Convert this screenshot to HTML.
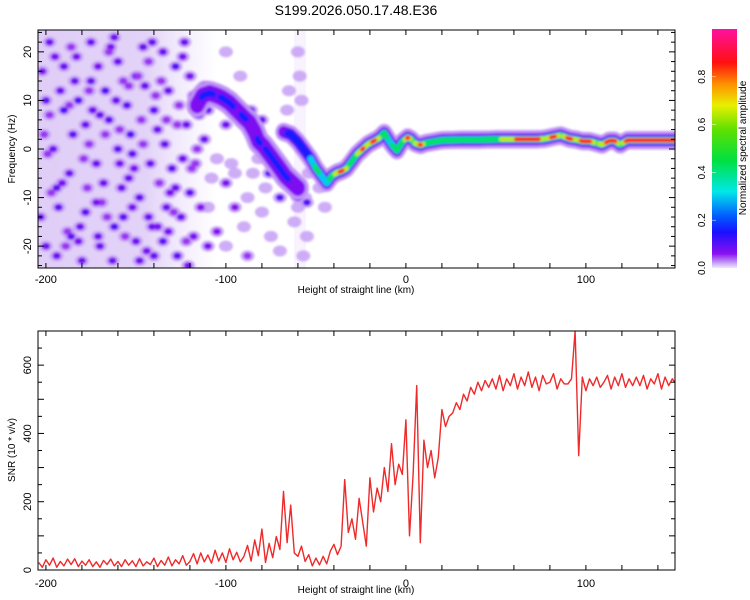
<!DOCTYPE html>
<html><head><meta charset="utf-8">
<style>
html,body{margin:0;padding:0;background:#fff;}
svg{display:block;font-family:"Liberation Sans",sans-serif;}
</style></head>
<body>
<svg id="chart" width="750" height="600" viewBox="0 0 750 600" xmlns="http://www.w3.org/2000/svg">
<defs>
<filter id="blur1" x="-50%" y="-50%" width="200%" height="200%"><feGaussianBlur stdDeviation="1.0"/></filter>
<filter id="blur2" x="-10%" y="-50%" width="120%" height="200%"><feGaussianBlur stdDeviation="1.0"/></filter>
<clipPath id="clipTop"><rect x="38" y="30" width="637" height="238"/></clipPath>
<clipPath id="clipBot"><rect x="38" y="331" width="637" height="239"/></clipPath>
<linearGradient id="cbar" x1="0" y1="1" x2="0" y2="0">
<stop offset="0" stop-color="#f0e6fc"/>
<stop offset="0.02" stop-color="#c9a6f6"/>
<stop offset="0.06" stop-color="#8a10f0"/>
<stop offset="0.15" stop-color="#1a10ff"/>
<stop offset="0.22" stop-color="#0060ff"/>
<stop offset="0.32" stop-color="#00e8e8"/>
<stop offset="0.45" stop-color="#00e040"/>
<stop offset="0.58" stop-color="#60e000"/>
<stop offset="0.68" stop-color="#e8f000"/>
<stop offset="0.77" stop-color="#ff9000"/>
<stop offset="0.86" stop-color="#ff1010"/>
<stop offset="1" stop-color="#ff10a0"/>
</linearGradient>
<linearGradient id="wash" x1="0" y1="0" x2="1" y2="0">
<stop offset="0" stop-color="#dcc8f6" stop-opacity="0.9"/>
<stop offset="0.6" stop-color="#dcc8f6" stop-opacity="0.8"/>
<stop offset="1" stop-color="#e6d8fa" stop-opacity="0"/>
</linearGradient>
</defs>

<text x="356" y="15" font-size="14" text-anchor="middle" fill="#000">S199.2026.050.17.48.E36</text>

<g id="topPlot">
  <rect x="38" y="30" width="180" height="238" fill="url(#wash)"/>
  <rect x="294" y="30" width="12" height="238" fill="#eadcfb" opacity="0.35"/>
  <g id="blobs" clip-path="url(#clipTop)" filter="url(#blur1)"></g>
  <g id="ridge" clip-path="url(#clipTop)" filter="url(#blur2)"></g>
  <g id="topAxes"></g>
  <rect x="38" y="30" width="637" height="238" fill="none" stroke="#000" stroke-width="1"/>
  <text x="356" y="293" font-size="10" text-anchor="middle">Height of straight line (km)</text>
  <text transform="translate(15,149) rotate(-90)" font-size="10" text-anchor="middle">Frequency (Hz)</text>
</g>

<g id="colorbar">
  <rect x="712" y="29" width="25" height="239" fill="url(#cbar)"/>
  <g id="cbTicks"></g>
  <text transform="translate(746,148) rotate(-90)" font-size="10" text-anchor="middle">Normalized spectral amplitude</text>
</g>

<g id="botPlot">
  <path id="snrLine" clip-path="url(#clipBot)" fill="none" stroke="#ee2a2a" stroke-width="1.4" stroke-linejoin="round"/>
  <g id="botAxes"></g>
  <rect x="38" y="331" width="637" height="239" fill="none" stroke="#000" stroke-width="1"/>
  <text x="356" y="593" font-size="10" text-anchor="middle">Height of straight line (km)</text>
  <text transform="translate(15,450) rotate(-90)" font-size="10" text-anchor="middle">SNR (10 * v/v)</text>
</g>
</svg>
<script>
// ---------- data ----------
const xTickLabels = [-200, -100, 0, 100];
const freqTickLabels = [-20, -10, 0, 10, 20];
const snrTickLabels = [0, 200, 400, 600];
const cbTickLabels = [0.0, 0.2, 0.4, 0.6, 0.8];

// background noise blobs (km, Hz, amplitude)
const blobX = [-182,-190,-175,-165,-160,-153,-145,-140,-133,-128,-120,-196,-187,-178,-170,-162,-150,-142,-135,-125,-198,-185,-172,-167,-158,-148,-138,-130,-122,-115,-110,-200,-193,-180,-168,-155,-146,-135,-127,-118,-175,-162,-152,-143,-190,-200,-178,-160,-132,-124,-112,-105,-95,-88,-100,-80,-86,-70,-60,-55,-100,-110,-76,-150,-186,-170,-140,-120,-194,-157,
  -202,-197,-192,-188,-183,-179,-174,-169,-164,-159,-154,-149,-144,-139,-134,-129,-124,-119,-114,
  -201,-195,-189,-184,-177,-171,-166,-161,-156,-151,-147,-141,-136,-131,-126,-121,-116,
  -203,-198,-191,-186,-181,-176,-172,-167,-163,-157,-152,-146,-141,-137,-132,-127,-123,-117,-112,
  -199,-194,-187,-182,-176,-171,-165,-159,-154,-148,-143,-138,-133,-128,-122,-118,
  -100,-90,-80,-75,-70,-60,-58,-57,-56,-55,-59,-57,-85,-65,-100,-92,-110,-105,-95,-82,-60,-62,-54,-48,-45,-66,-78,-88,-97,-108];
const blobF = [10,17,14,6,18,3,13,8,-12,17,-9,0,-5,-13,-20,-16,-19,-3,-19,-14,22,3,-3,12,-8,-10,4,-4,5,7,-20,-20,-12,-23,-7,9,21,20,-22,-18,22,23,-1,-14,8,10,5,0,12,-2,2,-17,-12,-22,-7,6,8,-10,-10,-11,5,8,-5,15,-18,7,-22,15,-8,-14,
  16,-9,12,-17,19,-2,8,-11,21,4,-6,15,-21,11,1,-13,19,-4,-12,
  3,19,-20,14,-8,17,-14,10,-18,-4,6,-16,14,-9,9,-24,0,
  -14,7,-7,21,-16,12,-11,3,-23,14,-12,1,22,-7,-17,5,22,-3,13,
  -1,-22,9,-19,1,-18,20,-3,13,-23,18,-16,6,-8,-19,11,
  -20,-16,-13,-18,-21,20,10,0,-10,-18,15,-22,-5,12,20,15,-12,-2,-5,-2,-12,-15,-5,-8,-12,8,-8,-10,-3,-6];
const blobA = [0.1,0.08,0.08,0.09,0.08,0.1,0.08,0.09,0.08,0.1,0.09,0.08,0.08,0.09,0.08,0.1,0.08,0.08,0.09,0.08,0.08,0.09,0.08,0.1,0.08,0.09,0.08,0.09,0.08,0.08,0.07,0.08,0.09,0.08,0.08,0.09,0.08,0.08,0.09,0.07,0.08,0.08,0.09,0.08,0.1,0.09,0.08,0.09,0.08,0.08,0.08,0.06,0.06,0.05,0.07,0.09,0.09,0.1,0.1,0.1,0.08,0.09,0.1,0.08,0.09,0.08,0.08,0.07,0.09,0.09,
  0.07,0.05,0.08,0.05,0.07,0.05,0.08,0.05,0.07,0.05,0.08,0.05,0.07,0.05,0.08,0.05,0.07,0.05,0.06,
  0.05,0.07,0.05,0.08,0.05,0.07,0.05,0.08,0.05,0.07,0.05,0.08,0.05,0.07,0.05,0.07,0.05,
  0.08,0.05,0.07,0.05,0.08,0.05,0.07,0.05,0.08,0.05,0.07,0.05,0.08,0.05,0.07,0.05,0.08,0.05,0.06,
  0.05,0.08,0.05,0.07,0.05,0.08,0.05,0.07,0.05,0.08,0.05,0.07,0.05,0.08,0.05,0.06,
  0.03,0.03,0.03,0.03,0.03,0.03,0.03,0.03,0.03,0.03,0.03,0.03,0.03,0.03,0.03,0.03,0.03,0.03,0.03,0.03,0.03,0.03,0.03,0.03,0.03,0.03,0.03,0.03,0.03,0.03];

// ridge branch A (early, fainter, wide)
const ridgeAX = [-116,-113,-109,-105,-102,-98,-94,-90,-87,-84,-82,-79,-77,-74,-71,-67,-63,-60];
const ridgeAF = [9,11,11.5,11,10.5,9.5,8,6.5,5.5,3.5,1.6,0.5,-0.5,-2,-3.5,-5.6,-7,-8];
const ridgeAA = [0.12,0.2,0.22,0.15,0.2,0.22,0.15,0.2,0.15,0.12,0.2,0.15,0.25,0.2,0.22,0.25,0.1,0.08];

// ridge branch B (main)
const ridgeBX = [-68,-64,-60,-56,-53,-50,-47,-44,-41,-38,-36,-33,-30,-27,-24,-21,-18,-15,-12,-9,-7,-5,-2,1,3,5,8,11,20,30,40,50,58,65,73,77,82,86,91,95,98,102,106,109,113,116,119,123,150];
const ridgeBF = [3.5,3,1.5,-0.5,-2,-4,-5.5,-7,-5.5,-4.8,-4.6,-4,-2.5,-1,0,1,1.6,2.2,3.3,1.5,0.5,-0.3,1.5,2.4,2,1.2,0.8,1.2,1.8,1.9,1.9,2,2,2,2,2.1,2.5,2.8,2.1,1.9,1.6,1.6,1.2,0.9,1.7,1.7,0.9,1.8,1.8];
const ridgeBA = [0.15,0.2,0.18,0.2,0.3,0.45,0.4,0.35,0.5,0.7,0.9,0.6,0.5,0.6,0.85,0.6,0.9,0.6,0.5,0.35,0.45,0.55,0.4,0.9,0.5,0.6,0.85,0.45,0.45,0.45,0.5,0.55,0.7,0.9,0.9,0.55,0.9,0.5,0.9,0.55,0.9,0.85,0.5,0.7,0.9,0.9,0.45,0.9,0.9];

// SNR series, one value every 2 km starting at -204 km
const snrStart = -204, snrStep = 2;
const snrValues = [22,8,30,14,35,8,25,12,32,16,33,10,26,14,30,10,24,8,28,16,32,12,25,10,30,14,27,10,33,12,24,16,35,10,28,14,38,12,30,18,42,14,
  25,48,18,50,24,44,20,58,26,50,22,62,30,52,24,
  40,72,26,88,42,120,22,78,36,98,
  60,230,80,190,50,
  40,70,25,45,12,35,15,40,18,
  55,75,45,70,
  265,110,150,90,210,140,70,
  270,170,240,200,300,230,370,250,310,280,
  440,100,280,540,80,380,
  300,350,270,330,470,420,450,460,490,
  470,515,495,535,515,550,525,555,535,560,
  530,570,525,560,540,575,530,565,540,580,
  535,565,525,570,545,550,575,530,560,545,
  545,560,700,335,565,525,560,540,565,535,
  550,570,530,565,540,575,535,560,540,565,
  540,570,530,560,545,575,530,565,540,560,
  545];

// ---------- scales ----------
const X0 = 38, X1 = 675, KMIN = -204.4, KMAX = 149.5;
const xs = k => X0 + (k - KMIN) / (KMAX - KMIN) * (X1 - X0);
const TY0 = 30, TY1 = 268, FMIN = -24.5, FMAX = 24.5;
const ys = f => TY1 - (f - FMIN) / (FMAX - FMIN) * (TY1 - TY0);
const BY0 = 331, BY1 = 570, SMAX = 700;
const ysnr = v => BY1 - v / SMAX * (BY1 - BY0);
const CB0 = 268, CB1 = 29;
const ycb = a => CB0 - a * (CB0 - CB1);

const NS = 'http://www.w3.org/2000/svg';
function mk(tag, attrs, parent) {
  const e = document.createElementNS(NS, tag);
  for (const k in attrs) e.setAttribute(k, attrs[k]);
  parent.appendChild(e);
  return e;
}

// colormap
const cmStops = [[0,[240,230,252]],[0.02,[201,166,246]],[0.06,[138,16,240]],[0.15,[26,16,255]],[0.22,[0,96,255]],[0.32,[0,232,232]],[0.45,[0,224,64]],[0.58,[96,224,0]],[0.68,[232,240,0]],[0.77,[255,144,0]],[0.86,[255,16,16]],[1,[255,16,160]]];
function cmap(a) {
  a = Math.max(0, Math.min(1, a));
  for (let i = 1; i < cmStops.length; i++) {
    if (a <= cmStops[i][0]) {
      const [a0, c0] = cmStops[i-1], [a1, c1] = cmStops[i];
      const t = (a - a0) / (a1 - a0);
      return 'rgb(' + c0.map((c, j) => Math.round(c + (c1[j] - c) * t)).join(',') + ')';
    }
  }
  return 'rgb(255,16,160)';
}

// ---------- blobs ----------
const blobG = document.getElementById('blobs');
for (let i = 0; i < blobX.length; i++) {
  const halo = mk('ellipse', {cx: xs(blobX[i]), cy: ys(blobF[i]), rx: 7, ry: 5.5, fill: cmap(0.022), opacity: 0.85}, blobG);
  
  
}
for (let i = 0; i < blobX.length; i++) {
  const a = blobA[i];
  if (a > 0.04) {
    const c = mk('ellipse', {cx: xs(blobX[i]), cy: ys(blobF[i]), rx: 4, ry: 3.3, fill: cmap(a)}, blobG);
    
    
  }
}

// ---------- ridges ----------
const ridgeG = document.getElementById('ridge');
function densify(X, F, A, step) {
  const pts = [];
  for (let i = 0; i < X.length - 1; i++) {
    const n = Math.max(1, Math.ceil((X[i+1] - X[i]) / step));
    for (let j = 0; j < n; j++) {
      const t = j / n;
      pts.push([X[i] + (X[i+1]-X[i])*t, F[i] + (F[i+1]-F[i])*t, A[i] + (A[i+1]-A[i])*t]);
    }
  }
  pts.push([X[X.length-1], F[F.length-1], A[A.length-1]]);
  return pts;
}
const layers = [
  {lvl: 0.0, r: 9, c: cmap(0.025)},
  {lvl: 0.0, r: 6, c: cmap(0.07)},
  {lvl: 0.18, r: 4.2, c: cmap(0.16)},
  {lvl: 0.3, r: 3.4, c: cmap(0.3)},
  {lvl: 0.42, r: 2.8, c: cmap(0.42)},
  {lvl: 0.6, r: 2.4, c: cmap(0.65)},
  {lvl: 0.78, r: 2.0, c: cmap(0.88)}
];
function drawRidge(X, F, A, name, haloScale, coreScale) {
  const pts = densify(X, F, A, 0.5);
  layers.forEach((L, li) => {
    const g = mk('g', {fill: L.c}, ridgeG);
    
    
    pts.forEach(p => {
      if (p[2] >= L.lvl) {
        const r = li < 2 ? L.r * haloScale : L.r * coreScale;
        mk('ellipse', {cx: xs(p[0]), cy: ys(p[1]), rx: r * 0.9, ry: r}, g);
      }
    });
  });
}
drawRidge(ridgeAX, ridgeAF, ridgeAA, 'ridge-branch-a', 1.35, 0.8);
drawRidge(ridgeBX, ridgeBF, ridgeBA, 'ridge-branch-b', 1.0, 1.0);

// ---------- top axes ----------
const ta = document.getElementById('topAxes');
for (let k = -200; k <= 140; k += 20) {
  const x = xs(k);
  mk('line', {x1: x, y1: TY1, x2: x, y2: TY1 - 5, stroke: '#000'}, ta);
  mk('line', {x1: x, y1: TY0, x2: x, y2: TY0 + 5, stroke: '#000'}, ta);
}
xTickLabels.forEach(k => {
  const t = mk('text', {x: xs(k), y: 283, 'font-size': 11, 'text-anchor': 'middle'}, ta);
  
  
  t.textContent = k;
});
for (let f = -24; f <= 24; f += 2) {
  const y = ys(f), len = f % 10 === 0 ? 6 : 4;
  mk('line', {x1: X0, y1: y, x2: X0 + len, y2: y, stroke: '#000'}, ta);
  mk('line', {x1: X1, y1: y, x2: X1 - len, y2: y, stroke: '#000'}, ta);
}
freqTickLabels.forEach(f => {
  const t = mk('text', {transform: 'translate(31,' + ys(f) + ') rotate(-90)', 'font-size': 11, 'text-anchor': 'middle'}, ta);
  
  
  t.textContent = f;
});

// ---------- colorbar ticks ----------
const cb = document.getElementById('cbTicks');
cbTickLabels.forEach(a => {
  const y = ycb(a);
  mk('line', {x1: 712, y1: y, x2: 716, y2: y, stroke: '#fff', 'stroke-width': 0.5}, cb);
  const t = mk('text', {transform: 'translate(705,' + y + ') rotate(-90)', 'font-size': 10, 'text-anchor': 'middle'}, cb);
  
  
  t.textContent = a.toFixed(1);
});

// ---------- SNR line ----------
let d = '';
snrValues.forEach((v, i) => {
  const k = snrStart + i * snrStep;
  d += (i ? 'L' : 'M') + xs(k).toFixed(2) + ',' + ysnr(v).toFixed(2);
});
document.getElementById('snrLine').setAttribute('d', d);

// ---------- bottom axes ----------
const ba = document.getElementById('botAxes');
for (let k = -200; k <= 140; k += 20) {
  const x = xs(k);
  mk('line', {x1: x, y1: BY1, x2: x, y2: BY1 - 5, stroke: '#000'}, ba);
  mk('line', {x1: x, y1: BY0, x2: x, y2: BY0 + 5, stroke: '#000'}, ba);
}
xTickLabels.forEach(k => {
  const t = mk('text', {x: xs(k), y: 587, 'font-size': 11, 'text-anchor': 'middle'}, ba);
  
  
  t.textContent = k;
});
for (let v = 0; v <= 700; v += 50) {
  const y = ysnr(v), len = v % 100 === 0 ? 6 : 4;
  mk('line', {x1: X0, y1: y, x2: X0 + len, y2: y, stroke: '#000'}, ba);
  mk('line', {x1: X1, y1: y, x2: X1 - len, y2: y, stroke: '#000'}, ba);
}
snrTickLabels.forEach(v => {
  const t = mk('text', {transform: 'translate(31,' + ysnr(v) + ') rotate(-90)', 'font-size': 11, 'text-anchor': 'middle'}, ba);
  
  
  t.textContent = v;
});
</script>
</body></html>
